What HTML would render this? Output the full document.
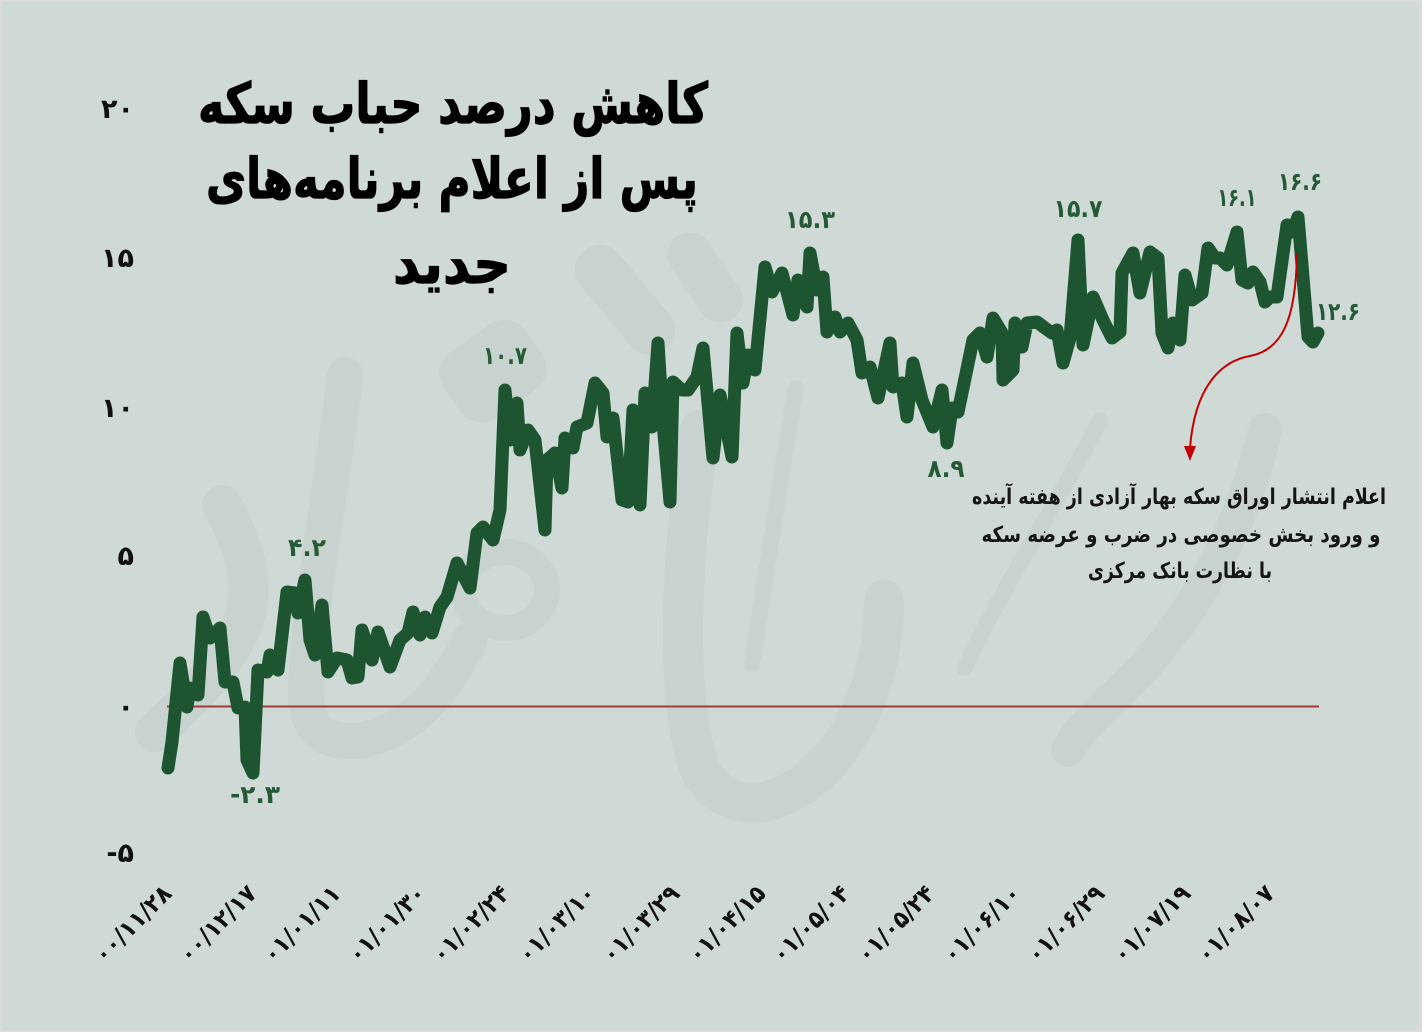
<!DOCTYPE html>
<html><head><meta charset="utf-8"><style>
html,body{margin:0;padding:0;background:#dcdcdc;}
svg{display:block;}
</style></head><body>
<svg xmlns="http://www.w3.org/2000/svg" width="1422" height="1032" viewBox="0 0 1422 1032">
<rect x="0" y="0" width="1422" height="1032" fill="#dcdcdc"/>
<rect x="2" y="2" width="1418" height="1028" fill="#cfd9d6"/>

<!-- watermark -->
<g fill="none" stroke="#c8d3cf" stroke-linecap="round" stroke-linejoin="round">
  <path d="M222,505 C250,555 258,600 235,640 C212,680 185,705 155,732" stroke-width="40"/>
  <path d="M345,375 C333,480 308,610 306,690 C305,735 330,745 362,740 C405,732 440,700 470,640" stroke-width="36"/>
  <ellipse cx="505" cy="590" rx="42" ry="38" stroke-width="26"/>
  <path d="M796,388 C780,480 765,580 752,664" stroke-width="16"/>
  <path d="M700,430 C680,560 675,700 700,770 C725,815 780,815 830,760 C865,720 884,660 884,600" stroke-width="40"/>
  <path d="M1100,420 C1060,500 1000,590 965,668" stroke-width="16"/>
  <path d="M1265,430 C1240,540 1180,640 1110,700 C1090,720 1075,735 1068,750" stroke-width="34"/>
  <path d="M600,270 L650,330" stroke-width="50"/>
  <path d="M690,255 L720,300" stroke-width="45"/>
</g>
<g fill="#c8d3cf">
  <rect x="443" y="331" width="100" height="80" rx="26" transform="rotate(-35 493 371)"/>
</g>

<!-- zero line -->
<line x1="167" y1="706.5" x2="1319" y2="706.5" stroke="#a23a3a" stroke-width="2"/>

<!-- data line -->
<polyline fill="none" stroke="#1c552f" stroke-width="13" stroke-linejoin="round" stroke-linecap="round" points="168,768 172,742 180,663 187,707 190,688 198,695 203,617 210,638 220,628 225,682 233,682 238,708 245,707 247,760 253,773 258,670 267,672 270,655 278,670 287,592 295,593 298,613 305,580 310,640 315,655 322,605 328,672 337,658 347,660 352,678 358,677 362,630 372,660 378,632 390,667 400,640 408,633 413,612 420,635 425,617 432,633 440,607 447,597 457,563 470,588 477,533 483,527 493,540 500,510 505,390 510,440 517,403 520,450 528,430 535,440 545,530 547,460 555,453 562,488 565,438 573,448 577,427 587,423 595,383 603,393 607,437 613,418 622,500 628,502 633,410 640,505 645,393 652,427 658,343 663,423 670,502 673,382 682,390 688,390 697,377 703,348 713,458 720,395 732,457 737,333 743,383 748,355 755,370 765,267 772,292 782,273 793,315 798,280 807,307 810,253 817,290 823,277 827,332 835,317 840,332 848,323 857,340 862,373 870,367 878,398 890,343 893,387 902,383 907,417 913,363 922,400 933,427 942,390 947,443 952,408 958,412 973,340 980,333 987,357 993,318 1002,333 1003,380 1013,370 1015,323 1022,347 1027,323 1037,322 1045,328 1052,333 1057,330 1063,363 1070,338 1078,240 1083,345 1093,297 1103,320 1112,338 1120,332 1122,273 1133,253 1140,293 1150,252 1158,258 1162,333 1168,348 1173,323 1180,340 1185,275 1192,300 1202,293 1208,248 1215,258 1220,258 1227,265 1237,232 1242,280 1248,283 1253,272 1260,282 1265,302 1270,297 1277,297 1287,225 1292,232 1298,217 1308,337 1313,342 1318,333"/>

<!-- annotation arrow -->
<path d="M1297,253 C1296,320 1282,350 1250,356 C1222,361 1195,385 1190,448" fill="none" stroke="#c40000" stroke-width="2"/>
<polygon points="1184,446 1196,446 1190,461" fill="#c40000"/>

<!-- y axis labels -->
<g font-family="'DejaVu Sans', sans-serif" font-weight="bold" font-size="27" fill="#111" text-anchor="end">
  <text x="134" y="118">۲۰</text>
  <text x="134" y="267">۱۵</text>
  <text x="134" y="417">۱۰</text>
  <text x="134" y="565">۵</text>
  <text x="134" y="716">۰</text>
  <text x="134" y="862">-۵</text>
</g>

<!-- data labels -->
<g font-family="'DejaVu Sans', sans-serif" font-weight="bold" font-size="25" fill="#245a36" text-anchor="middle">
  <text x="307" y="556" textLength="38" lengthAdjust="spacingAndGlyphs">۴.۲</text>
  <text x="255" y="803" textLength="50" lengthAdjust="spacingAndGlyphs">-۲.۳</text>
  <text x="505" y="364" textLength="44" lengthAdjust="spacingAndGlyphs">۱۰.۷</text>
  <text x="810" y="228" textLength="50" lengthAdjust="spacingAndGlyphs">۱۵.۳</text>
  <text x="946" y="477" textLength="37" lengthAdjust="spacingAndGlyphs">۸.۹</text>
  <text x="1078" y="217" textLength="49" lengthAdjust="spacingAndGlyphs">۱۵.۷</text>
  <text x="1237" y="206" textLength="39" lengthAdjust="spacingAndGlyphs">۱۶.۱</text>
  <text x="1300" y="190" textLength="44" lengthAdjust="spacingAndGlyphs">۱۶.۶</text>
  <text x="1338" y="320" textLength="44" lengthAdjust="spacingAndGlyphs">۱۲.۶</text>
</g>

<!-- x axis labels -->
<g font-family="'DejaVu Sans', sans-serif" font-weight="bold" font-size="24" fill="#111" text-anchor="end">
  <text transform="translate(173,895) rotate(-45)" textLength="98" lengthAdjust="spacingAndGlyphs">۰۰/۱۱/۲۸</text>
  <text transform="translate(258,895) rotate(-45)" textLength="98" lengthAdjust="spacingAndGlyphs">۰۰/۱۲/۱۷</text>
  <text transform="translate(342,895) rotate(-45)" textLength="98" lengthAdjust="spacingAndGlyphs">۰۱/۰۱/۱۱</text>
  <text transform="translate(427,895) rotate(-45)" textLength="98" lengthAdjust="spacingAndGlyphs">۰۱/۰۱/۳۰</text>
  <text transform="translate(511,895) rotate(-45)" textLength="98" lengthAdjust="spacingAndGlyphs">۰۱/۰۲/۲۴</text>
  <text transform="translate(597,895) rotate(-45)" textLength="98" lengthAdjust="spacingAndGlyphs">۰۱/۰۳/۱۰</text>
  <text transform="translate(681,895) rotate(-45)" textLength="98" lengthAdjust="spacingAndGlyphs">۰۱/۰۳/۲۹</text>
  <text transform="translate(767,895) rotate(-45)" textLength="98" lengthAdjust="spacingAndGlyphs">۰۱/۰۴/۱۵</text>
  <text transform="translate(851,895) rotate(-45)" textLength="98" lengthAdjust="spacingAndGlyphs">۰۱/۰۵/۰۴</text>
  <text transform="translate(936,895) rotate(-45)" textLength="98" lengthAdjust="spacingAndGlyphs">۰۱/۰۵/۲۴</text>
  <text transform="translate(1022,895) rotate(-45)" textLength="98" lengthAdjust="spacingAndGlyphs">۰۱/۰۶/۱۰</text>
  <text transform="translate(1106,895) rotate(-45)" textLength="98" lengthAdjust="spacingAndGlyphs">۰۱/۰۶/۲۹</text>
  <text transform="translate(1192,895) rotate(-45)" textLength="98" lengthAdjust="spacingAndGlyphs">۰۱/۰۷/۱۹</text>
  <text transform="translate(1276,895) rotate(-45)" textLength="98" lengthAdjust="spacingAndGlyphs">۰۱/۰۸/۰۷</text>
</g>

<!-- title -->
<g font-family="'DejaVu Sans', sans-serif" font-weight="bold" font-size="56" fill="#000" text-anchor="middle" direction="rtl" stroke="#000" stroke-width="1.2">
  <text x="453" y="123" textLength="510" lengthAdjust="spacingAndGlyphs">کاهش درصد حباب سکه</text>
  <text x="452" y="198" textLength="492" lengthAdjust="spacingAndGlyphs">پس از اعلام برنامه‌های</text>
  <text x="452" y="283" textLength="118" lengthAdjust="spacingAndGlyphs">جدید</text>
</g>

<!-- annotation text -->
<g font-family="'DejaVu Sans', sans-serif" font-weight="bold" font-size="22" fill="#151515" text-anchor="middle" direction="rtl">
  <text x="1179" y="504" textLength="414" lengthAdjust="spacingAndGlyphs">اعلام انتشار اوراق سکه بهار آزادی از هفته آینده</text>
  <text x="1181" y="542" textLength="399" lengthAdjust="spacingAndGlyphs">و ورود بخش خصوصی در ضرب و عرضه سکه</text>
  <text x="1180" y="578" textLength="184" lengthAdjust="spacingAndGlyphs">با نظارت بانک مرکزی</text>
</g>
</svg>
</body></html>
